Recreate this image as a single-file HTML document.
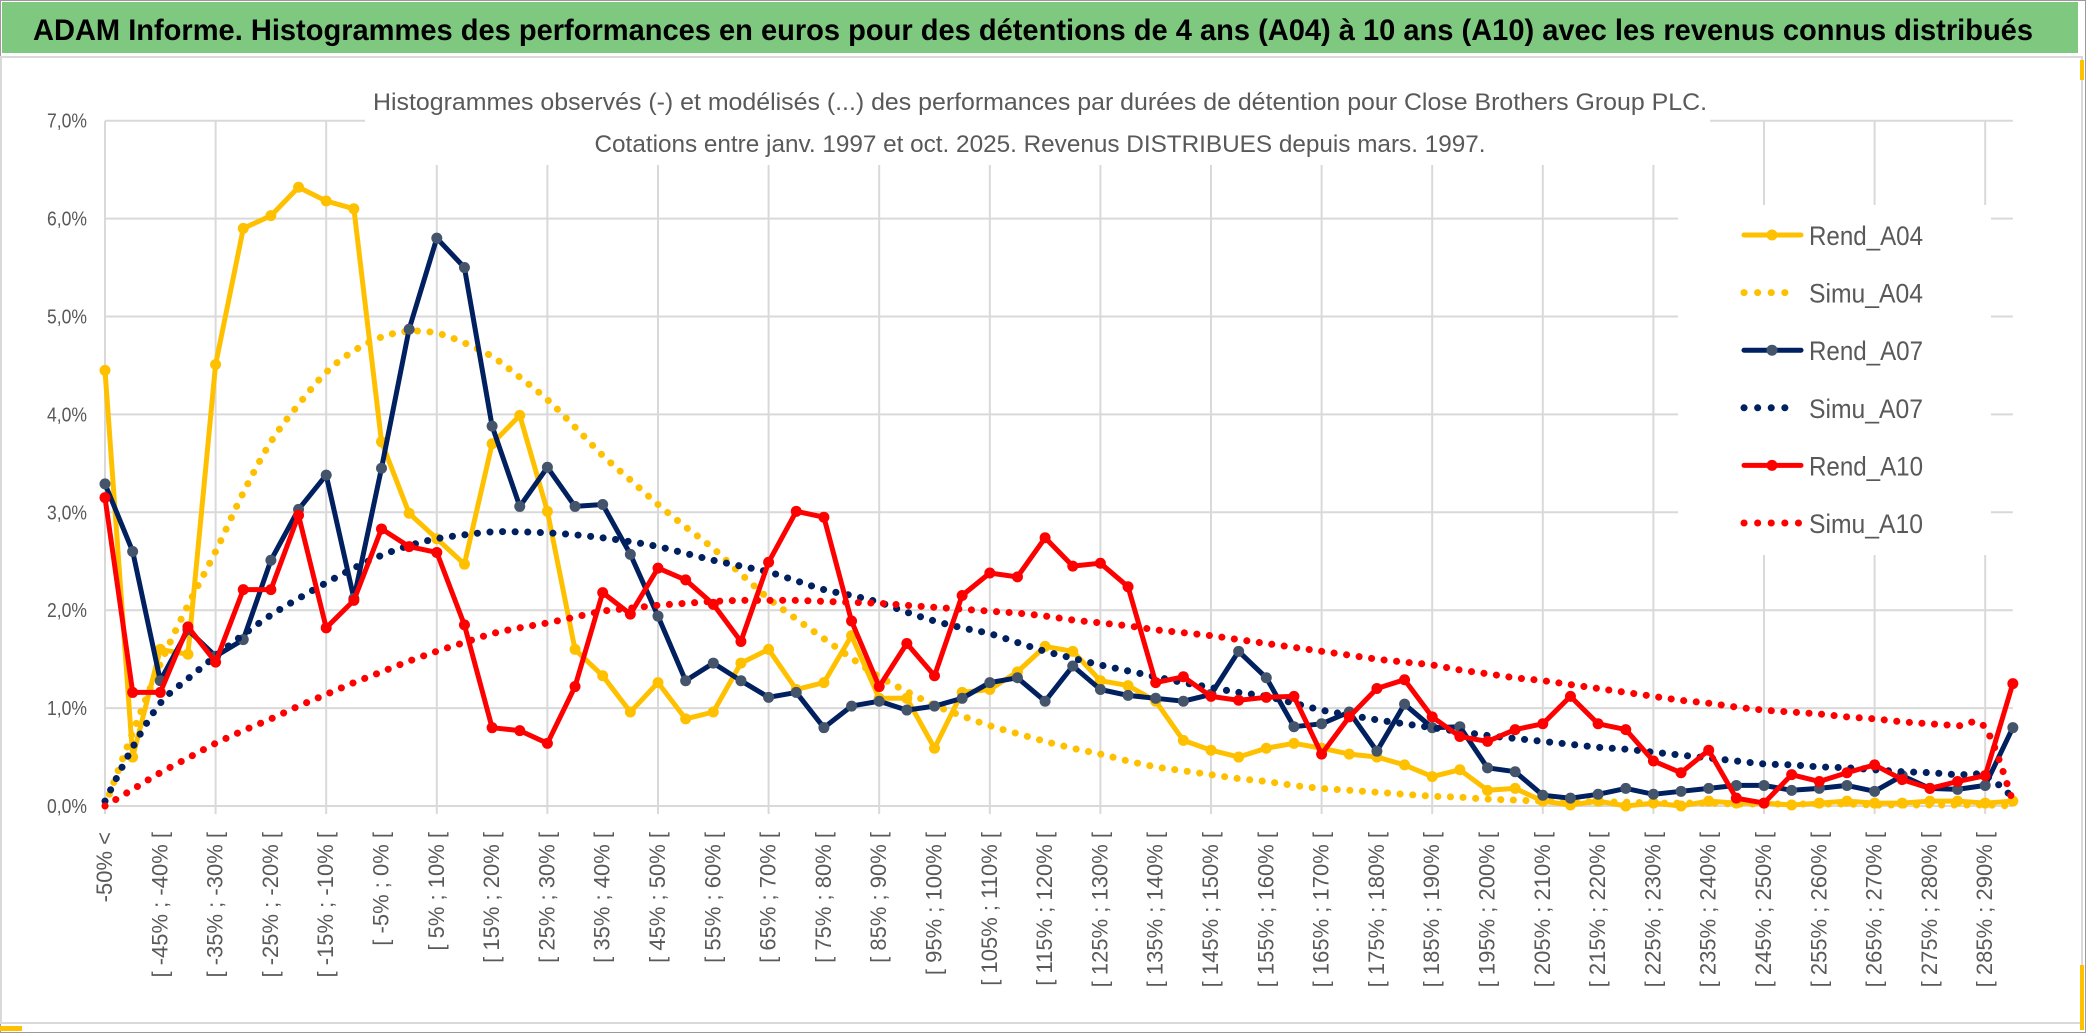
<!DOCTYPE html>
<html><head><meta charset="utf-8"><style>
html,body{margin:0;padding:0;background:#fff;}
svg{display:block;font-family:"Liberation Sans",sans-serif;}
</style></head><body>
<svg id="chart" width="2086" height="1033" viewBox="0 0 2086 1033" xmlns="http://www.w3.org/2000/svg">
<rect x="0" y="0" width="2086" height="1033" fill="#fff"/>
<rect x="0.5" y="0.5" width="2085" height="1032" fill="none" stroke="#9a9a9a" stroke-width="1"/>
<rect x="1" y="57" width="2081" height="966" fill="none" stroke="#d9d9d9" stroke-width="2"/>
<rect x="2" y="2" width="2076" height="51" fill="#7fc87f"/>
<text x="33" y="40" font-size="30" font-weight="bold" fill="#000" textLength="2000" lengthAdjust="spacingAndGlyphs">ADAM Informe. Histogrammes des performances en euros pour des détentions de 4 ans (A04) à 10 ans (A10) avec les revenus connus distribués</text>
<rect x="0" y="1026" width="22" height="5" fill="#ffc000"/>
<rect x="2080" y="965" width="4" height="65" fill="#ffc000"/>
<rect x="2080" y="60" width="4" height="20" fill="#ffc000"/>
<g id="grid"></g>
<rect x="365" y="84" width="1345" height="81" fill="#fff"/>
<text x="1040" y="110" font-size="24" fill="#595959" text-anchor="middle" textLength="1334" lengthAdjust="spacingAndGlyphs">Histogrammes observés (-) et modélisés (...) des performances par durées de détention pour Close Brothers Group PLC.</text>
<text x="1040" y="152" font-size="24" fill="#595959" text-anchor="middle" textLength="891" lengthAdjust="spacingAndGlyphs">Cotations entre janv. 1997 et oct. 2025. Revenus DISTRIBUES depuis mars. 1997.</text>
<g id="yaxis"></g>
<g id="xaxis"></g>
<g id="series"></g>
<rect x="1678" y="205" width="313" height="350" fill="#fff"/>
<g id="legend"></g>
</svg>
<script>
const rendA04 = [4.45,0.50,1.60,1.55,4.51,5.90,6.03,6.32,6.18,6.10,3.72,2.99,2.73,2.47,3.70,3.99,3.01,1.60,1.33,0.96,1.26,0.89,0.96,1.46,1.60,1.19,1.26,1.74,1.10,1.10,0.59,1.16,1.19,1.37,1.63,1.58,1.28,1.23,1.07,0.67,0.57,0.50,0.59,0.64,0.59,0.53,0.50,0.42,0.30,0.37,0.16,0.18,0.05,0.01,0.05,0.00,0.03,0.00,0.05,0.03,0.03,0.01,0.03,0.05,0.03,0.03,0.05,0.05,0.03,0.05];
const simuA04 = [0.00,0.75,1.45,2.05,2.60,3.20,3.72,4.10,4.43,4.65,4.79,4.85,4.83,4.73,4.59,4.38,4.15,3.87,3.58,3.33,3.08,2.85,2.63,2.37,2.12,1.91,1.71,1.51,1.32,1.17,1.03,0.92,0.82,0.74,0.66,0.59,0.53,0.46,0.40,0.36,0.32,0.28,0.25,0.21,0.18,0.16,0.14,0.12,0.10,0.09,0.07,0.06,0.05,0.05,0.04,0.04,0.03,0.03,0.03,0.02,0.02,0.02,0.02,0.02,0.01,0.01,0.01,0.01,0.01,0.00];
const rendA07 = [3.29,2.60,1.28,1.80,1.53,1.70,2.51,3.03,3.38,2.12,3.45,4.87,5.80,5.50,3.88,3.06,3.46,3.06,3.08,2.57,1.94,1.28,1.46,1.28,1.11,1.16,0.80,1.02,1.07,0.98,1.02,1.10,1.26,1.31,1.07,1.43,1.19,1.13,1.10,1.07,1.14,1.58,1.31,0.81,0.84,0.96,0.56,1.04,0.80,0.81,0.39,0.35,0.11,0.08,0.12,0.18,0.12,0.15,0.18,0.21,0.21,0.16,0.18,0.21,0.15,0.31,0.18,0.17,0.21,0.80];
const simuA07 = [0.05,0.60,1.05,1.30,1.53,1.75,1.95,2.12,2.28,2.43,2.56,2.66,2.73,2.77,2.80,2.80,2.79,2.77,2.74,2.70,2.65,2.58,2.51,2.45,2.39,2.30,2.21,2.15,2.08,1.98,1.89,1.82,1.76,1.67,1.58,1.51,1.44,1.38,1.32,1.26,1.21,1.16,1.12,1.05,0.98,0.93,0.88,0.84,0.80,0.76,0.72,0.69,0.66,0.63,0.60,0.58,0.55,0.52,0.49,0.46,0.43,0.42,0.40,0.39,0.37,0.35,0.34,0.32,0.31,0.09];
const rendA10 = [3.15,1.16,1.16,1.83,1.47,2.21,2.21,2.97,1.82,2.10,2.83,2.65,2.59,1.85,0.80,0.77,0.64,1.22,2.18,1.96,2.43,2.31,2.06,1.68,2.49,3.01,2.95,1.89,1.22,1.66,1.33,2.15,2.38,2.34,2.74,2.45,2.48,2.24,1.26,1.32,1.12,1.08,1.11,1.12,0.53,0.91,1.20,1.29,0.91,0.71,0.66,0.78,0.84,1.12,0.84,0.78,0.46,0.34,0.57,0.08,0.03,0.32,0.25,0.34,0.42,0.27,0.18,0.25,0.31,1.25];
const simuA10 = [0.00,0.17,0.34,0.49,0.64,0.77,0.89,1.02,1.14,1.26,1.37,1.48,1.58,1.67,1.76,1.82,1.87,1.93,1.99,2.02,2.05,2.07,2.09,2.10,2.10,2.10,2.09,2.08,2.07,2.05,2.03,2.01,1.99,1.97,1.94,1.90,1.87,1.84,1.80,1.77,1.74,1.70,1.66,1.62,1.58,1.54,1.50,1.47,1.44,1.39,1.35,1.31,1.28,1.24,1.20,1.16,1.12,1.08,1.05,1.01,0.98,0.96,0.94,0.91,0.89,0.86,0.84,0.82,0.80,0.05];
const yTicks = [0,1,2,3,4,5,6,7];
const yTickLabels = ["0,0%","1,0%","2,0%","3,0%","4,0%","5,0%","6,0%","7,0%"];
const seriesNames = ["Rend_A04","Simu_A04","Rend_A07","Simu_A07","Rend_A10","Simu_A10"];

const NS = "http://www.w3.org/2000/svg";
const N = rendA04.length;
const X0 = 105, STEP = 27.65, Y0 = 806, YS = 97.9;
function xPos(i){ return X0 + i*STEP; }
function yPos(v){ return Y0 - v*YS; }
function mk(tag, attrs, parent){ const e=document.createElementNS(NS,tag); for(const k in attrs) e.setAttribute(k,attrs[k]); parent.appendChild(e); return e; }
function catLabel(i){ if(i===0) return "-50% <"; const a=-50+5*(i-1); return "[ "+a+"% ; "+(a+5)+"% ["; }

const grid=document.getElementById('grid');
yTicks.forEach(t=>{
  const l=mk('line',{x1:X0,x2:xPos(N-1),y1:yPos(t),y2:yPos(t),stroke:'#d9d9d9','stroke-width':2},grid);
  
  
});
for(let i=0;i<N;i+=4){
  const l=mk('line',{x1:xPos(i),x2:xPos(i),y1:yPos(7),y2:Y0+8,stroke:'#d9d9d9','stroke-width':2},grid);
  
  
}
const yax=document.getElementById('yaxis');
yTicks.forEach((t,k)=>{
  const tx=mk('text',{x:87,y:yPos(t)+7,'font-size':20,fill:'#595959','text-anchor':'end',textLength:40,lengthAdjust:'spacingAndGlyphs'},yax);
  tx.textContent=yTickLabels[k];
  
  
});
const xax=document.getElementById('xaxis');
for(let i=0;i<N;i+=2){
  const x=xPos(i)+7, y=832;
  const tx=mk('text',{x:x,y:y,'font-size':22,fill:'#595959','text-anchor':'end',transform:'rotate(-90 '+x+' '+y+')'},xax);
  tx.textContent=catLabel(i);
  
  
}
function straightPath(vals){ return vals.map((v,i)=>(i?'L':'M')+xPos(i).toFixed(1)+' '+yPos(v).toFixed(1)).join(' '); }
function smoothPath(vals){
  const p=vals.map((v,i)=>[xPos(i),yPos(v)]);
  let d='M'+p[0][0].toFixed(1)+' '+p[0][1].toFixed(1);
  for(let i=0;i<p.length-1;i++){
    const p0=p[i-1]||p[i], p1=p[i], p2=p[i+1], p3=p[i+2]||p[i+1];
    const c1=[p1[0]+(p2[0]-p0[0])/6, p1[1]+(p2[1]-p0[1])/6];
    const c2=[p2[0]-(p3[0]-p1[0])/6, p2[1]-(p3[1]-p1[1])/6];
    d+=' C'+c1[0].toFixed(1)+' '+c1[1].toFixed(1)+' '+c2[0].toFixed(1)+' '+c2[1].toFixed(1)+' '+p2[0].toFixed(1)+' '+p2[1].toFixed(1);
  }
  return d;
}
const ser=document.getElementById('series');
function drawRend(vals,color,mcolor,name){
  const g=mk('g',{},ser);
  
  
  const p=mk('path',{d:straightPath(vals),fill:'none',stroke:color,'stroke-width':5,'stroke-linejoin':'round','stroke-linecap':'round'},g);
  
  
  vals.forEach((v,i)=>{
    const c=mk('circle',{cx:xPos(i),cy:yPos(v),r:5.5,fill:mcolor},g);
    
    
  });
}
function drawSimu(vals,color,name){
  const p=mk('path',{d:smoothPath(vals),fill:'none',stroke:color,'stroke-width':7,'stroke-linecap':'round','stroke-dasharray':'0.1 12.5'},ser);
  
  
}
drawRend(rendA04,'#ffc000','#ffc000','rend-a04');
drawSimu(simuA04,'#ffc000','simu-a04');
drawRend(rendA07,'#002060','#44546a','rend-a07');
drawSimu(simuA07,'#002060','simu-a07');
drawRend(rendA10,'#ff0000','#ff0000','rend-a10');
drawSimu(simuA10,'#ff0000','simu-a10');

const leg=document.getElementById('legend');
const legColors=['#ffc000','#ffc000','#002060','#002060','#ff0000','#ff0000'];
const legMarker=['#ffc000',null,'#44546a',null,'#ff0000',null];
seriesNames.forEach((nm,k)=>{
  const cy=235+k*57.6;
  const g=mk('g',{},leg);
  
  
  if(legMarker[k]){
    mk('line',{x1:1744,x2:1801,y1:cy,y2:cy,stroke:legColors[k],'stroke-width':5,'stroke-linecap':'round'},g);
    mk('circle',{cx:1772,cy:cy,r:5.5,fill:legMarker[k]},g);
  } else {
    mk('line',{x1:1744,x2:k===5?1800:1790,y1:cy,y2:cy,stroke:legColors[k],'stroke-width':7,'stroke-linecap':'round','stroke-dasharray':'0.1 13.5'},g);
  }
  const t=mk('text',{x:1809,y:cy+10,'font-size':27,fill:'#595959',textLength:114,lengthAdjust:'spacingAndGlyphs'},g);
  t.textContent=nm;
});
</script>
</body></html>
